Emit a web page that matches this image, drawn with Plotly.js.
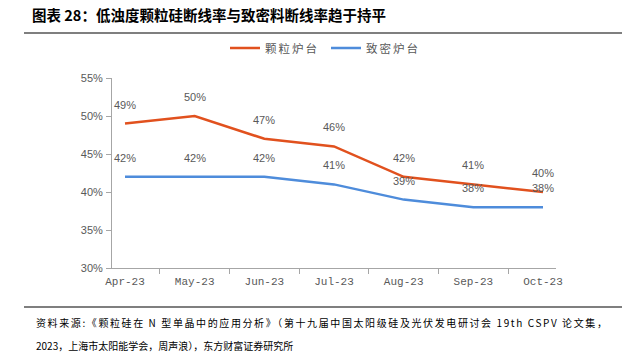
<!DOCTYPE html>
<html><head><meta charset="utf-8">
<script src="https://cdn.plot.ly/plotly-3.0.1.min.js"></script>
<style>html,body{margin:0;padding:0;background:#fff}#c{width:622px;height:352px}
g.legend text.legendtext{letter-spacing:2px}
</style>
</head><body><div id="c"></div>
<script>
const categories = ["Apr-23","May-23","Jun-23","Jul-23","Aug-23","Sep-23","Oct-23"];
const granular = [49, 50, 47, 46, 42, 41, 40];
const dense = [42, 42, 42, 41, 39, 38, 38];
const yTicks = [30, 35, 40, 45, 50, 55];
const yTickLabels = ["30%","35%","40%","45%","50%","55%"];
const seriesNames = ["颗粒炉台","致密炉台"];
const titleText = "图表 28：低浊度颗粒硅断线率与致密料断线率趋于持平";
const sourceLine1 = "资料来源:《颗粒硅在 N 型单晶中的应用分析》（第十九届中国太阳级硅及光伏发电研讨会 19th CSPV 论文集，";
const sourceLine2 = "2023，上海市太阳能学会，周声浪），东方财富证券研究所";

const red = "#E1511E", blue = "#4E8CDB", gray = "#595959";
const L = 112, T = 78, W = 444, H = 190;
const px = x => (x - L) / W;
const py = y => (T + H - y) / H;

const traces = [
  {x: categories, y: granular, name: seriesNames[0], type: "scatter", mode: "lines",
   line: {color: red, width: 2.5}},
  {x: categories, y: dense, name: seriesNames[1], type: "scatter", mode: "lines",
   line: {color: blue, width: 2.5}}
];

const annotations = [];
[granular, dense].forEach(arr => {
  arr.forEach((v, i) => annotations.push({
    x: categories[i], y: v, xref: "x", yref: "y", text: v + "%", showarrow: false,
    yshift: 19, font: {family: "Liberation Sans, Arial", size: 11, color: gray}
  }));
});
annotations.push({xref: "paper", yref: "paper", x: px(30), y: py(14), xanchor: "left", yanchor: "middle",
  text: "<b>" + titleText + "</b>", showarrow: false,
  font: {family: "Noto Sans CJK SC", size: 14.5, color: "#000"}});
annotations.push({xref: "paper", yref: "paper", x: px(34), y: py(322), xanchor: "left", yanchor: "middle",
  text: sourceLine1, showarrow: false, font: {family: "Noto Sans CJK SC", size: 10, color: "#000"}});
annotations.push({xref: "paper", yref: "paper", x: px(34), y: py(345), xanchor: "left", yanchor: "middle",
  text: sourceLine2, showarrow: false, font: {family: "Noto Sans CJK SC", size: 10, color: "#000"}});

const shapes = [
  {type: "line", xref: "paper", yref: "paper", x0: px(24), x1: px(622), y0: py(33), y1: py(33),
   line: {color: "#7f7f7f", width: 2}},
  {type: "line", xref: "paper", yref: "paper", x0: px(24), x1: px(622), y0: py(307), y1: py(307),
   line: {color: "#7f7f7f", width: 2}}
];

const layout = {
  width: 622, height: 352,
  margin: {l: L, r: 622 - L - W, t: T, b: 352 - T - H},
  paper_bgcolor: "#fff", plot_bgcolor: "#fff",
  showlegend: true,
  legend: {orientation: "h", x: px(225), y: py(48), xanchor: "left", yanchor: "middle",
    entrywidth: 56, entrywidthmode: "pixels",
    font: {family: "Noto Sans CJK SC", size: 11.5, color: gray}, itemwidth: 30},
  xaxis: {type: "category", tickson: "boundaries", ticks: "outside", ticklen: 5, tickcolor: "#a6a6a6",
    showline: true, linecolor: "#a6a6a6", linewidth: 1, showgrid: false, zeroline: false,
    ticklabelstandoff: 3,
    tickfont: {family: "Liberation Mono, DejaVu Sans Mono", size: 11, color: gray}, fixedrange: true},
  yaxis: {range: [30, 55], tickvals: yTicks, ticktext: yTickLabels, ticks: "outside", ticklen: 5,
    tickcolor: "#a6a6a6", showline: true, linecolor: "#a6a6a6", linewidth: 1, showgrid: false, zeroline: false,
    ticklabelstandoff: 1,
    tickfont: {family: "Liberation Sans, Arial", size: 11, color: gray}, fixedrange: true},
  annotations: annotations,
  shapes: shapes
};
Plotly.newPlot("c", traces, layout, {displayModeBar: false, staticPlot: true}).then(gd => {
  const t = gd.querySelector('g.annotation[data-index="15"] text');
  if (t) {
    const bb = t.getBBox();
    t.setAttribute("text-anchor", "start");
    t.setAttribute("x", bb.x);
    t.querySelectorAll("tspan").forEach(s => { if (s.hasAttribute("x")) s.setAttribute("x", bb.x); });
    t.style.letterSpacing = "1.6px";
  }
});
</script></body></html>
